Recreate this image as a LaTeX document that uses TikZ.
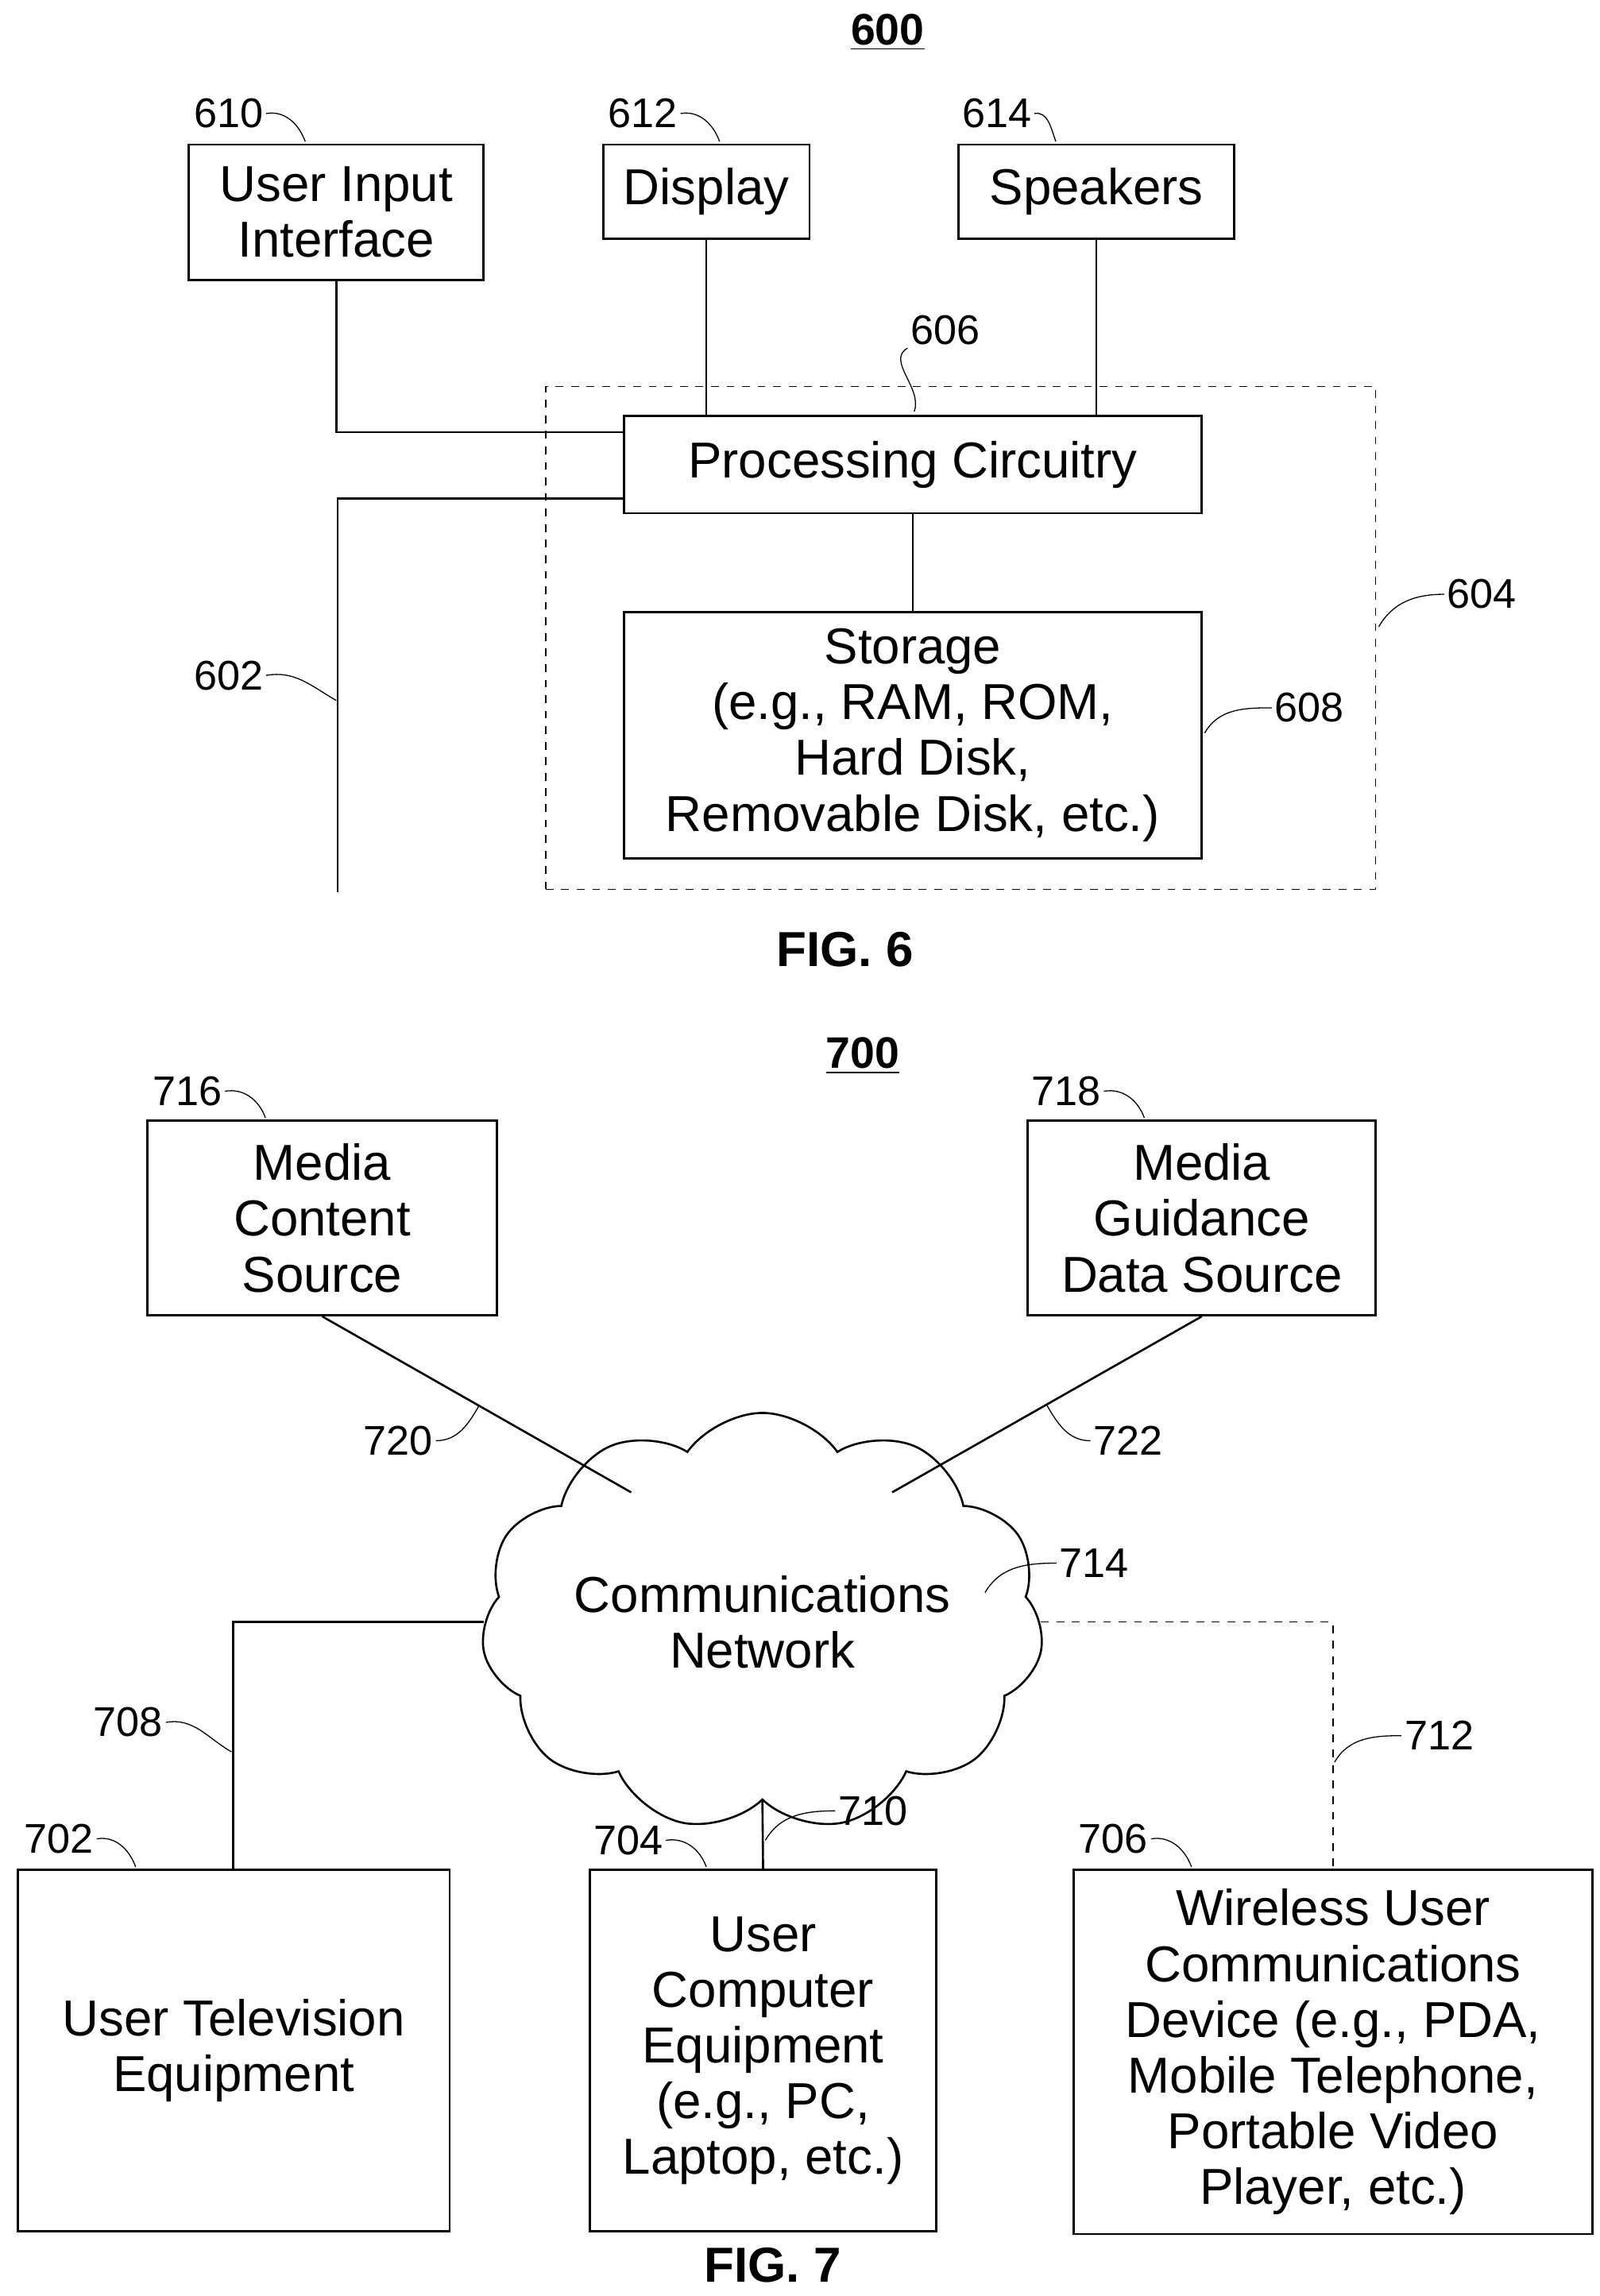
\documentclass[tikz,border=0pt]{standalone}
\usepackage{fontspec}
\setmainfont{Liberation Sans}
\usetikzlibrary{positioning}
\usetikzlibrary{shapes.symbols}
\begin{document}
\begin{tikzpicture}[x=0.02cm, y=-0.02cm,
    box/.style={rectangle, draw=black, thick, inner sep=0pt, align=center, font=\fontsize{19.5}{21.5}\selectfont},
    ref/.style={font=\fontsize{16}{18}\selectfont, inner sep=1pt},
    lead/.style={thin},
    wire/.style={thick}]
    \useasboundingbox (0,0) rectangle (1085,1557);

    % FIG. 6
    \node[font=\fontsize{17}{19}\selectfont\bfseries] (T600) at (602,22) {\underline{600}};
    \node[box, minimum width=4cm, minimum height=1.84cm] (UI) at (228,144) {User Input\\Interface};
    \node[box, minimum width=2.8cm, minimum height=1.28cm] (Disp) at (479,130) {Display};
    \node[box, minimum width=3.74cm, minimum height=1.28cm] (Spk) at (743.5,130) {Speakers};
    \node[box, minimum width=7.84cm, minimum height=1.32cm] (Proc) at (619,315) {Processing Circuitry};
    \node[box, minimum width=7.84cm, minimum height=3.34cm] (Stor) at (619,498.5)
        {Storage\\(e.g., RAM, ROM,\\Hard Disk,\\Removable Disk, etc.)};
    \node[draw, dashed, thin, minimum width=11.26cm, minimum height=6.82cm, inner sep=0pt] (Dev) at (651.5,432.5) {};

    \coordinate (bus) at (229,605);
    \draw[wire] (UI.south) |- (Proc.west |- 0,293);
    \draw[wire] (Disp.south) -- (Disp.south |- Proc.north);
    \draw[wire] (Spk.south) -- (Spk.south |- Proc.north);
    \draw[wire] (Proc.south) -- (Stor.north);
    \draw[wire] (Proc.west |- 0,338) -| (bus);

    \node[ref] (L610) at (155,77) {610};
    \node[ref] (L612) at (436,77) {612};
    \node[ref] (L614) at (676,77) {614};
    \node[ref] (L606) at (641,224) {606};
    \node[ref] (L604) at (1005,403) {604};
    \node[ref] (L608) at (888,480) {608};
    \node[ref] (L602) at (155,458) {602};
    \coordinate (c610) at (207,96);
    \coordinate (c612) at (488,96);
    \coordinate (c614) at (716,96);
    \coordinate (c606) at (620,279);
    \coordinate (c604) at (935,425);
    \coordinate (c608) at (817,497);
    \coordinate (c602) at (228,475);
    \draw[lead] (L610.east) to[out=10,in=110] (c610);
    \draw[lead] (L612.east) to[out=10,in=110] (c612);
    \draw[lead] (L614.east) to[out=10,in=110] (c614);
    \draw[lead] (L606.south west) to[out=-150,in=70] (c606);
    \draw[lead] (L604.west) to[out=180,in=60] (c604);
    \draw[lead] (L608.west) to[out=180,in=60] (c608);
    \draw[lead] (L602.east) to[out=10,in=150] (c602);

    \node[font=\fontsize{19}{21}\selectfont\bfseries] (F6) at (573,644) {FIG. 6};

    % FIG. 7
    \node[font=\fontsize{17}{19}\selectfont\bfseries] (T700) at (585,716) {\underline{700}};
    \node[box, minimum width=4.74cm, minimum height=2.64cm] (MCS) at (218.5,826) {Media\\Content\\Source};
    \node[box, minimum width=4.72cm, minimum height=2.64cm] (MGD) at (815,826) {Media\\Guidance\\Data Source};
    \node[cloud, draw, thick, cloud puffs=11, cloud puff arc=110, aspect=1.5,
          minimum width=5.7cm, minimum height=3.9cm, inner sep=0pt, align=center,
          font=\fontsize{19.5}{21.5}\selectfont] (Net) at (517,1100) {Communications\\Network};
    \node[box, minimum width=5.86cm, minimum height=4.9cm] (UTV) at (158.5,1390.5) {User Television\\Equipment};
    \node[box, minimum width=4.7cm, minimum height=4.9cm] (UCE) at (517.5,1390.5)
        {User\\Computer\\Equipment\\(e.g., PC,\\Laptop, etc.)};
    \node[box, minimum width=7.04cm, minimum height=4.94cm] (WUC) at (904,1391.5)
        {Wireless User\\Communications\\Device (e.g., PDA,\\Mobile Telephone,\\Portable Video\\Player, etc.)};

    \coordinate (n720) at (428,1012);
    \coordinate (n722) at (605,1012);
    \draw[wire] (MCS.south) -- (n720);
    \draw[wire] (MGD.south) -- (n722);
    \draw[wire] (Net.west) -| (UTV.north -| 158,0);
    \draw[wire] (Net.south) -- (UCE.north);
    \draw[thin, dashed] (Net.east) -| (WUC.north);

    \node[ref] (L716) at (127,740) {716};
    \node[ref] (L718) at (723,740) {718};
    \node[ref] (L720) at (270,977) {720};
    \node[ref] (L722) at (765,977) {722};
    \node[ref] (L714) at (742,1060) {714};
    \node[ref] (L708) at (87,1168) {708};
    \node[ref] (L710) at (592,1228) {710};
    \node[ref] (L712) at (976,1177) {712};
    \node[ref] (L702) at (40,1247) {702};
    \node[ref] (L704) at (426,1248) {704};
    \node[ref] (L706) at (755,1247) {706};
    \coordinate (c716) at (180,758);
    \coordinate (c718) at (776,758);
    \coordinate (c720) at (325,953);
    \coordinate (c722) at (710,953);
    \coordinate (c714) at (668,1080);
    \coordinate (c708) at (157,1188);
    \coordinate (c710) at (519,1248);
    \coordinate (c712) at (905,1195);
    \coordinate (c702) at (92,1266);
    \coordinate (c704) at (479,1266);
    \coordinate (c706) at (808,1266);
    \draw[lead] (L716.east) to[out=10,in=110] (c716);
    \draw[lead] (L718.east) to[out=10,in=110] (c718);
    \draw[lead] (L720.east) to[out=0,in=-120] (c720);
    \draw[lead] (L722.west) to[out=180,in=-60] (c722);
    \draw[lead] (L714.west) to[out=180,in=60] (c714);
    \draw[lead] (L708.east) to[out=10,in=150] (c708);
    \draw[lead] (L710.west) to[out=180,in=60] (c710);
    \draw[lead] (L712.west) to[out=180,in=60] (c712);
    \draw[lead] (L702.east) to[out=10,in=110] (c702);
    \draw[lead] (L704.east) to[out=10,in=110] (c704);
    \draw[lead] (L706.east) to[out=10,in=110] (c706);

    \node[font=\fontsize{19}{21}\selectfont\bfseries] (F7) at (524,1536) {FIG. 7};
\end{tikzpicture}
\end{document}
